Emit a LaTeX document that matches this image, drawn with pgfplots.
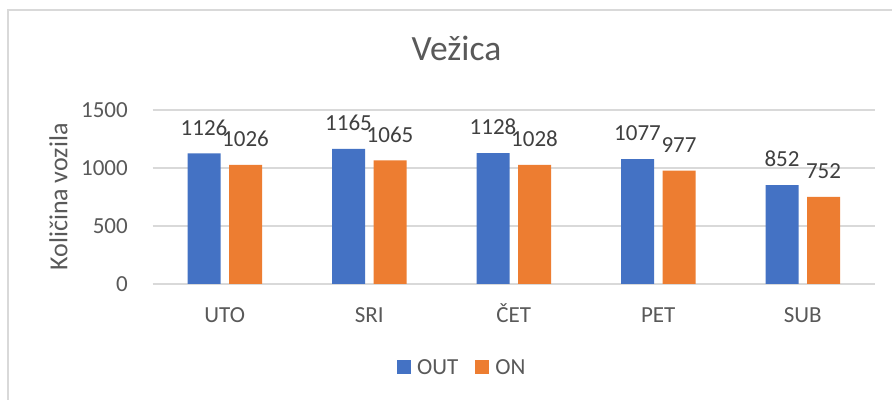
\documentclass[border=0pt]{standalone}
\usepackage{pgfplots}
\pgfplotsset{compat=1.18}
\usepackage{fontspec}
\setmainfont{Carlito}
\definecolor{cblue}{HTML}{4472C4}
\definecolor{corange}{HTML}{ED7D31}
\definecolor{tgray}{HTML}{595959}
\definecolor{lgray}{HTML}{404040}
\definecolor{ggray}{HTML}{D9D9D9}
\begin{document}
\begin{tikzpicture}
\useasboundingbox (0bp,0bp) rectangle (892bp,400bp);
\fill[white] (0bp,0bp) rectangle (892bp,400bp);
\draw[ggray, line width=2bp] (7.5bp,-10bp) -- (7.5bp,389.5bp) -- (900bp,389.5bp);
\begin{axis}[
  at={(152.5bp,116bp)}, anchor=south west,
  scale only axis, width=722.5bp, height=174bp,
  xmin=-0.5, xmax=4.5, ymin=0, ymax=1500,
  ybar=8.5bp, bar width=33bp,
  xtick={0,1,2,3,4}, xticklabels={UTO,SRI,ČET,PET,SUB},
  ytick={0,500,1000,1500},
  ymajorgrids, grid style={ggray, line width=1.3bp},
  axis line style={draw=none},
  major tick length=0pt,
  /pgf/number format/1000 sep={},
  /pgf/number format/assume math mode=true,
  xticklabel style={font=\fontsize{23bp}{27bp}\selectfont, text=tgray, anchor=base, yshift=-39bp},
  yticklabel style={font=\fontsize{23bp}{27bp}\selectfont, text=tgray, anchor=east, inner sep=0pt, xshift=-24.5bp},
  ylabel={Količina vozila},
  ylabel style={at={(axis description cs:-0.1301,0.5)}, anchor=center, rotate=0, font=\fontsize{26bp}{30bp}\selectfont, text=tgray, inner sep=0pt},
  title={Vežica},
  title style={at={(axis description cs:0.4208,1.2529)}, anchor=base, font=\fontsize{35.5bp}{42bp}\selectfont, text=tgray, inner sep=0pt},
  nodes near coords,
  every node near coord/.append style={font=\fontsize{23bp}{27bp}\selectfont, text=lgray, anchor=south, inner sep=0pt, yshift=18bp},
  legend columns=2,
  legend style={at={(axis description cs:0.3384,-0.4828)}, anchor=west, draw=none, fill=none, inner sep=0pt,
    font=\fontsize{23bp}{27bp}\selectfont, text=tgray,
    nodes={inner sep=0pt},
    /tikz/every odd column/.append style={column sep=6bp},
    /tikz/every even column/.append style={column sep=17bp}},
  legend image code/.code={\fill[#1] (0bp,-5.5bp) rectangle (14bp,8.5bp);},
]
\addplot[fill=cblue, draw=none] coordinates {(0,1126) (1,1165) (2,1128) (3,1077) (4,852)};
\addplot[fill=corange, draw=none] coordinates {(0,1026) (1,1065) (2,1028) (3,977) (4,752)};
\legend{OUT,ON}
\end{axis}
\end{tikzpicture}
\end{document}
